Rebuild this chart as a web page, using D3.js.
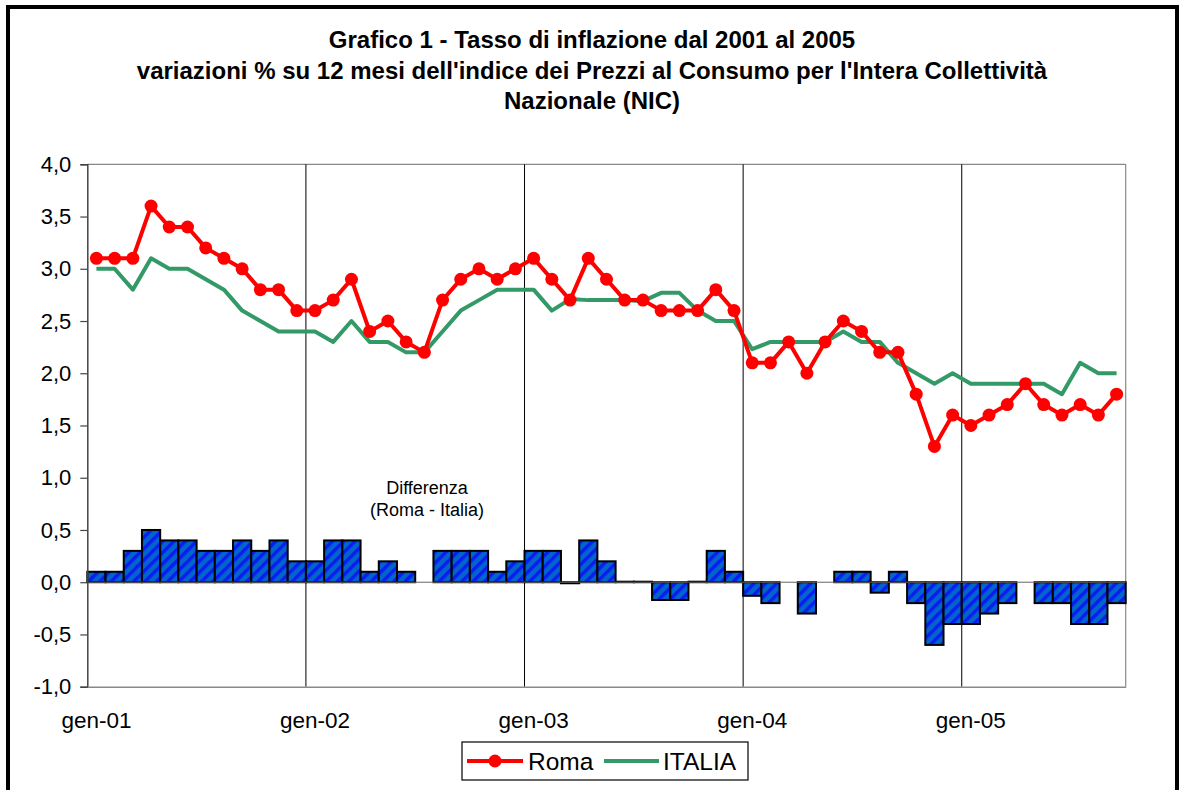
<!DOCTYPE html>
<html><head><meta charset="utf-8">
<script src="https://cdn.jsdelivr.net/npm/d3@7"></script>
<style>body{margin:0;background:#fff}svg{display:block}text{font-family:"Liberation Sans",Arial,sans-serif}</style>
</head><body>
<script>
const monthNames = ["gen","feb","mar","apr","mag","giu","lug","ago","set","ott","nov","dic"];
const years = ["01","02","03","04","05"];
const months = [];
years.forEach(y => monthNames.forEach(m => months.push(m + "-" + y)));
const categories = months.slice(0, 57);
const tickLabels = ["gen-01","gen-02","gen-03","gen-04","gen-05"];
const roma = [3.1,3.1,3.1,3.6,3.4,3.4,3.2,3.1,3.0,2.8,2.8,2.6,
              2.6,2.7,2.9,2.4,2.5,2.3,2.2,2.7,2.9,3.0,2.9,3.0,
              3.1,2.9,2.7,3.1,2.9,2.7,2.7,2.6,2.6,2.6,2.8,2.6,
              2.1,2.1,2.3,2.0,2.3,2.5,2.4,2.2,2.2,1.8,1.3,1.6,
              1.5,1.6,1.7,1.9,1.7,1.6,1.7,1.6,1.8];
const italia = [3.0,3.0,2.8,3.1,3.0,3.0,2.9,2.8,2.6,2.5,2.4,2.4,
                2.4,2.3,2.5,2.3,2.3,2.2,2.2,2.4,2.6,2.7,2.8,2.8,
                2.8,2.6,2.71,2.7,2.7,2.7,2.69,2.77,2.77,2.6,2.5,2.5,
                2.23,2.3,2.3,2.3,2.3,2.4,2.3,2.3,2.1,2.0,1.9,2.0,
                1.9,1.9,1.9,1.9,1.9,1.8,2.1,2.0,2.0];
const differenza = [0.1,0.1,0.3,0.5,0.4,0.4,0.3,0.3,0.4,0.3,0.4,0.2,
                    0.2,0.4,0.4,0.1,0.2,0.1,0,0.3,0.3,0.3,0.1,0.2,
                    0.3,0.3,-0.01,0.4,0.2,0.005,0.005,-0.17,-0.17,0.005,0.3,0.1,
                    -0.13,-0.2,0,-0.3,0,0.1,0.1,-0.1,0.1,-0.2,-0.6,-0.4,
                    -0.4,-0.3,-0.2,0,-0.2,-0.2,-0.4,-0.4,-0.2];
const yTicks = [-1,-0.5,0,0.5,1,1.5,2,2.5,3,3.5,4];
const titleLines = ["Grafico 1 - Tasso di inflazione dal 2001 al 2005",
  "variazioni % su 12 mesi dell'indice dei Prezzi al Consumo per l'Intera Collettività",
  "Nazionale (NIC)"];

const W = 1185, H = 790;
const svg = d3.select("body").append("svg").attr("width", W).attr("height", H);

// pattern
const defs = svg.append("defs");
const pat = defs.append("pattern").attr("id","hatch").attr("patternUnits","userSpaceOnUse")
  .attr("width",8).attr("height",8).attr("patternTransform","rotate(45)");
pat.append("rect").attr("width",8).attr("height",8).attr("fill","#0066CC");
pat.append("rect").attr("x",0).attr("width",3.5).attr("height",8).attr("fill","#0a1cf0");

// frame
svg.append("rect").attr("x",8).attr("y",7).attr("width",1169).attr("height",800)
  .attr("fill","none").attr("stroke","#000").attr("stroke-width",4);

// title
svg.append("g").selectAll("text").data(titleLines).join("text")
  .attr("x", 592).attr("y", (d,i) => 48 + i*30.5)
  .attr("text-anchor","middle").attr("font-weight","bold").attr("font-size","24px")
  .text(d => d);

const x = d3.scaleBand().domain(categories).range([87.3, 1125.7]).padding(0);
const y = d3.scaleLinear().domain([-1, 4]).range([686.7, 164.3]);

// plot border
svg.append("line").attr("x1",87.3).attr("x2",1125.7).attr("y1",y(4)).attr("y2",y(4)).attr("stroke","#888").attr("stroke-width",1.2);
svg.append("line").attr("x1",1125.7).attr("x2",1125.7).attr("y1",y(4)).attr("y2",y(-1)).attr("stroke","#888").attr("stroke-width",1.2);

// vertical gridlines
svg.append("g").selectAll("line").data(tickLabels.slice(1)).join("line")
  .attr("x1", d => x(d)).attr("x2", d => x(d)).attr("y1", y(4)).attr("y2", y(-1))
  .attr("stroke","#000").attr("stroke-width",1);

// bars
svg.append("g").selectAll("rect").data(differenza.map((v,i)=>({v, c: categories[i]})).filter(d => d.v !== 0)).join("rect")
  .attr("x", d => x(d.c)).attr("width", x.bandwidth())
  .attr("y", d => Math.min(y(d.v), y(0))).attr("height", d => Math.abs(y(d.v) - y(0)))
  .attr("fill","url(#hatch)").attr("stroke","#000").attr("stroke-width",2);

// zero line
svg.append("line").attr("x1",87.3).attr("x2",1125.7).attr("y1",y(0)).attr("y2",y(0)).attr("stroke","#666").attr("stroke-width",1);

// y axis
const yAxis = d3.axisLeft(y).tickValues(yTicks).tickSize(7).tickPadding(9)
  .tickFormat(d => d3.format(".1f")(d).replace(".", ",").replace("\u2212", "-"));
const gy = svg.append("g").attr("transform","translate(87.3,0)").call(yAxis);
gy.select(".domain").attr("stroke","#444").attr("stroke-width",1.5);
gy.selectAll(".tick line").attr("stroke","#444").attr("stroke-width",1.2);
gy.selectAll(".tick text").attr("font-size","22px").attr("fill","#000").attr("font-family","Liberation Sans, Arial, sans-serif");

// x axis
const xAxis = d3.axisBottom(x).tickValues(tickLabels).tickSize(0).tickPadding(25);
const gx = svg.append("g").attr("transform",`translate(0,${y(-1)})`).call(xAxis);
gx.select(".domain").attr("stroke","#888").attr("stroke-width",1.5);
gx.selectAll(".tick text").attr("font-size","22.5px").attr("fill","#000").attr("font-family","Liberation Sans, Arial, sans-serif");

// lines
const line = d3.line().x((d,i) => x(categories[i]) + x.bandwidth()/2).y(d => y(d));
svg.append("path").datum(italia).attr("d", line).attr("fill","none")
  .attr("stroke","#339966").attr("stroke-width",4).attr("stroke-linejoin","round");
svg.append("path").datum(roma).attr("d", line).attr("fill","none")
  .attr("stroke","#FF0000").attr("stroke-width",4).attr("stroke-linejoin","round");
svg.append("g").selectAll("circle").data(roma).join("circle")
  .attr("cx", (d,i) => x(categories[i]) + x.bandwidth()/2).attr("cy", d => y(d)).attr("r",6.5)
  .attr("fill","#FF0000");

// annotation
svg.append("g").selectAll("text").data(["Differenza","(Roma - Italia)"]).join("text")
  .attr("x", 427).attr("y", (d,i) => 494 + i*22).attr("text-anchor","middle")
  .attr("font-size","18px").text(d => d);

// legend
const lg = svg.append("g");
lg.append("rect").attr("x",462).attr("y",742).attr("width",286).attr("height",38)
  .attr("fill","#fff").attr("stroke","#000").attr("stroke-width",1.2);
lg.append("line").attr("x1",467).attr("x2",523).attr("y1",761).attr("y2",761).attr("stroke","#FF0000").attr("stroke-width",4);
lg.append("circle").attr("cx",495).attr("cy",761).attr("r",6.5).attr("fill","#FF0000");
lg.append("text").attr("x",528).attr("y",770).attr("font-size","24.5px").text("Roma");
lg.append("line").attr("x1",604).attr("x2",659).attr("y1",761).attr("y2",761).attr("stroke","#339966").attr("stroke-width",4);
lg.append("text").attr("x",663).attr("y",770).attr("font-size","24.5px").text("ITALIA");
</script>
</body></html>
